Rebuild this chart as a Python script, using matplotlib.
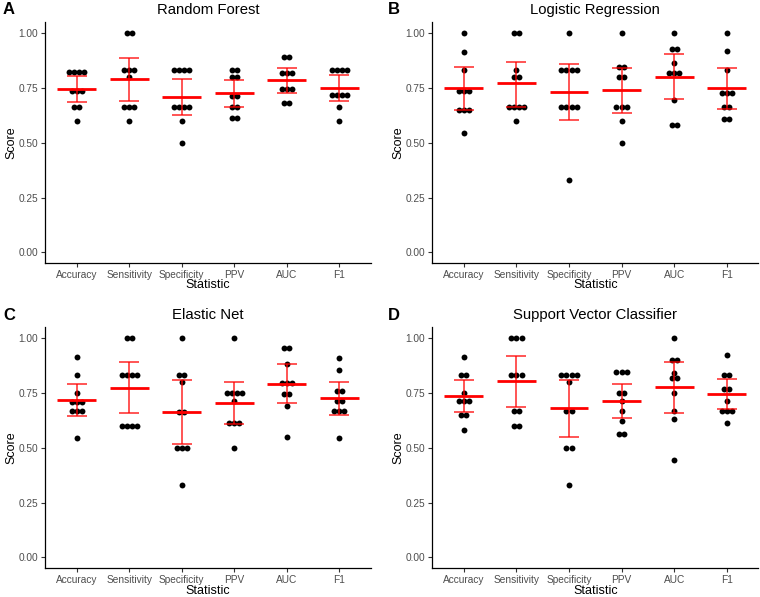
import numpy as np
import matplotlib.pyplot as plt

plt.rcParams['font.family'] = ['Liberation Sans', 'DejaVu Sans']

stats = ['Accuracy', 'Sensitivity', 'Specificity', 'PPV', 'AUC', 'F1']
models = ['Random Forest', 'Logistic Regression', 'Elastic Net', 'Support Vector Classifier']
panel_tags = ['A', 'B', 'C', 'D']

# fold scores (10 folds per statistic)
rf_scores = [
    [0.825] * 4 + [0.737] * 3 + [0.665] * 2 + [0.600],
    [1.000] * 2 + [0.833] * 3 + [0.802] + [0.665] * 3 + [0.600],
    [0.833] * 4 + [0.665] * 4 + [0.600] + [0.500],
    [0.833] * 2 + [0.799] * 2 + [0.712] * 2 + [0.665] * 2 + [0.612] * 2,
    [0.893] * 2 + [0.819] * 3 + [0.746] * 3 + [0.680] * 2,
    [0.833] * 4 + [0.720] * 4 + [0.665] + [0.600],
]
lr_scores = [
    [1.000, 0.915, 0.833] + [0.737] * 3 + [0.650] * 3 + [0.545],
    [1.000] * 2 + [0.833] + [0.800] * 2 + [0.665] * 4 + [0.600],
    [1.000] + [0.833] * 4 + [0.665] * 4 + [0.332],
    [1.000] + [0.845] * 2 + [0.800] * 2 + [0.665] * 3 + [0.600, 0.500],
    [1.000] + [0.928] * 2 + [0.866] + [0.819] * 3 + [0.694] + [0.581] * 2,
    [1.000, 0.921, 0.833] + [0.728] * 3 + [0.665] * 2 + [0.607] * 2,
]
en_scores = [
    [0.916, 0.833, 0.749] + [0.711] * 3 + [0.667] * 3 + [0.545],
    [1.000] * 2 + [0.833] * 4 + [0.600] * 4,
    [1.000] + [0.833] * 2 + [0.800] + [0.665] * 2 + [0.500] * 3 + [0.332],
    [1.000] + [0.749] * 4 + [0.715] + [0.612] * 3 + [0.500],
    [0.957] * 2 + [0.881] + [0.795] * 3 + [0.747] * 2 + [0.693, 0.551],
    [0.909, 0.857] + [0.761] * 2 + [0.715] * 2 + [0.667] * 3 + [0.545],
]
svc_scores = [
    [0.916] + [0.833] * 2 + [0.749] + [0.714] * 3 + [0.650] * 2 + [0.583],
    [1.000] * 3 + [0.833] * 3 + [0.667] * 2 + [0.600] * 2,
    [0.833] * 4 + [0.802] + [0.667] * 2 + [0.500] * 2 + [0.332],
    [0.845] * 3 + [0.749] * 2 + [0.715, 0.667, 0.624] + [0.562] * 2,
    [1.000] + [0.903] * 2 + [0.842] + [0.817] * 2 + [0.749, 0.667, 0.632, 0.443],
    [0.924] + [0.833] * 2 + [0.767] * 2 + [0.715] + [0.667] * 3 + [0.613],
]

# mean and 95% CI bars
rf_mean = [0.746, 0.790, 0.709, 0.726, 0.785, 0.749]
rf_lo = [0.688, 0.691, 0.626, 0.662, 0.729, 0.691]
rf_hi = [0.804, 0.889, 0.793, 0.787, 0.843, 0.808]
lr_mean = [0.749, 0.772, 0.734, 0.740, 0.802, 0.749]
lr_lo = [0.650, 0.665, 0.604, 0.635, 0.700, 0.653]
lr_hi = [0.848, 0.871, 0.861, 0.843, 0.906, 0.843]
en_mean = [0.720, 0.773, 0.662, 0.706, 0.793, 0.726]
en_lo = [0.647, 0.658, 0.516, 0.609, 0.703, 0.651]
en_hi = [0.791, 0.890, 0.810, 0.802, 0.881, 0.799]
svc_mean = [0.735, 0.804, 0.680, 0.715, 0.776, 0.744]
svc_lo = [0.665, 0.685, 0.549, 0.636, 0.661, 0.676]
svc_hi = [0.808, 0.919, 0.808, 0.793, 0.893, 0.814]

all_scores = [rf_scores, lr_scores, en_scores, svc_scores]
all_mean = [rf_mean, lr_mean, en_mean, svc_mean]
all_lo = [rf_lo, lr_lo, en_lo, svc_lo]
all_hi = [rf_hi, lr_hi, en_hi, svc_hi]

W, H = 760, 597
fig = plt.figure(figsize=(W / 100, H / 100), dpi=100)

# axes boxes in pixels: left, right, top, bottom
boxes = [(45.2, 370.8, 22.3, 263.3), (432.3, 758.3, 22.3, 263.3),
         (45.2, 370.8, 327.3, 568.3), (432.3, 758.3, 327.3, 568.3)]
tag_pos = [(3, 9.5), (388, 9.5), (3, 315), (388, 315)]

dot_step = 0.097
for k in range(4):
    l, r, t, b = boxes[k]
    ax = fig.add_axes([l / W, 1 - b / H, (r - l) / W, (b - t) / H])
    x = np.arange(len(stats))
    pw, ph = r - l, b - t

    for i, vals in enumerate(all_scores[k]):
        uvals, counts = np.unique(vals, return_counts=True)
        for v, c in zip(uvals, counts):
            xs = i + (np.arange(c) - (c - 1) / 2) * dot_step
            ax.scatter(xs, [v] * c, s=18, color='black', linewidths=0, zorder=2)

    mean = np.array(all_mean[k])
    lo = np.array(all_lo[k])
    hi = np.array(all_hi[k])
    ax.errorbar(x, mean, yerr=[mean - lo, hi - mean], fmt='none',
                ecolor='red', elinewidth=1.1, capsize=7.2, capthick=1.1,
                alpha=0.85, zorder=3)
    ax.hlines(mean, x - 0.37, x + 0.37, color='red', linewidth=2.0, zorder=4)

    ax.set_xlim(-0.6, len(stats) - 0.4)
    ax.set_ylim(-0.05, 1.05)
    ax.set_xticks(x)
    ax.set_xticklabels(stats)
    ax.set_yticks([0, 0.25, 0.5, 0.75, 1.0])
    ax.set_yticklabels(['0.00', '0.25', '0.50', '0.75', '1.00'])
    ax.tick_params(labelsize=7.3, colors='#333333', labelcolor='#4D4D4D',
                   length=3, width=0.8)
    ax.tick_params(axis='x', pad=1.5)
    ax.tick_params(axis='y', pad=2)
    for s in ['top', 'right']:
        ax.spines[s].set_visible(False)
    for s in ['left', 'bottom']:
        ax.spines[s].set_linewidth(0.9)
    ax.set_xlabel('Statistic', fontsize=9)
    ax.xaxis.label.set_va('center')
    ax.xaxis.set_label_coords(0.5, -22.2 / ph)
    ax.set_ylabel('Score', fontsize=9)
    ax.yaxis.label.set_va('center')
    ax.yaxis.set_label_coords(-33.5 / pw, 0.5)
    ax.set_title(models[k], fontsize=10.7, pad=6)

    tx, ty = tag_pos[k]
    fig.text(tx / W, 1 - ty / H, panel_tags[k], fontsize=12, fontweight='bold',
             ha='left', va='center')

fig.savefig('out.png', dpi=100)
